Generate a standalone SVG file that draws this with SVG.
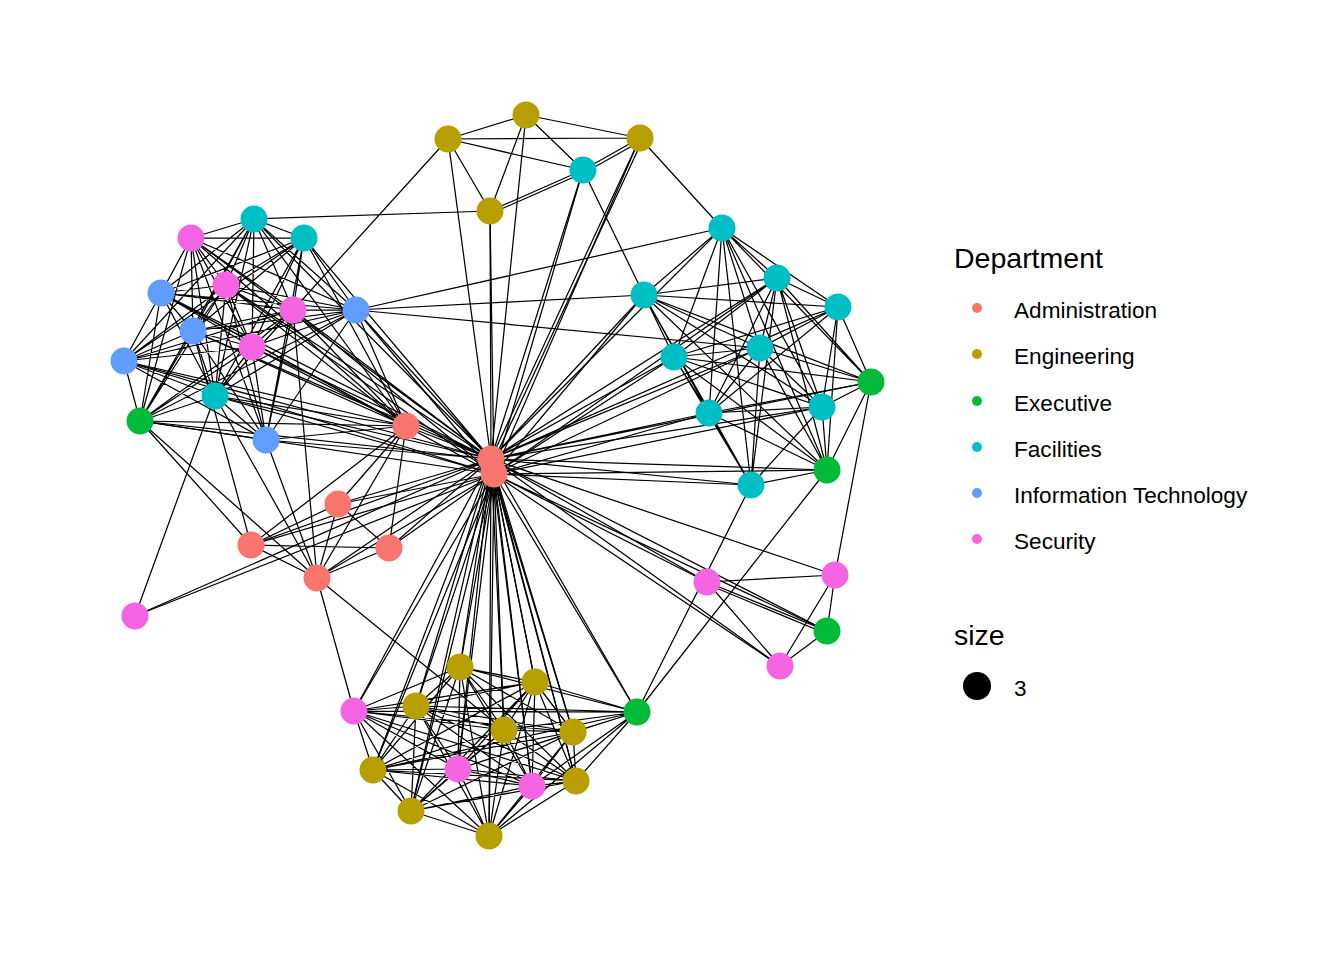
<svg xmlns="http://www.w3.org/2000/svg" width="1344" height="960" viewBox="0 0 1344 960">
<style>
.e{fill:none;stroke:#000;stroke-width:1.25}
.n{stroke:none}
.adm{fill:#F8766D}.eng{fill:#B79F00}.exe{fill:#00BA38}.fac{fill:#00BFC4}.it{fill:#619CFF}.sec{fill:#F564E3}
.lt{font-family:"Liberation Sans",Arial,sans-serif;fill:#000}
</style>
<rect width="1344" height="960" fill="#fff"/>
<g id="edges">
<path class="e" d="M491 459L448 139M491 459L526 115M491 459L490 211M491 459L583 170M491 459L640 138M491 459L722 228M491 459L777 278M491 459L838 307M491 459L644 295M491 459L674 357M491 459L760 348M491 459L709 413M491 459L822 407M491 459L751 485M491 459L871 382M491 459L827 470M491 459L707 582M491 459L835 575M491 459L780 666M491 459L827 631M491 459L191 238M491 459L226 285M491 459L293 310M491 459L252 347M491 459L161 293M491 459L193 331M491 459L124 361M491 459L356 310M491 459L254 219M491 459L304 238M491 459L215 396M491 459L140 421M491 459L266 440M491 459L406 426M491 459L338 504M491 459L251 545M491 459L389 548M491 459L317 578M491 459L135 616M491 459L460 667M491 459L535 682M491 459L416 706M491 459L504 730M491 459L573 732M491 459L373 770M491 459L576 781M491 459L411 811M491 459L489 836M491 459L354 711M491 459L458 769M491 459L532 786M491 459L637 712"/>
<path class="e" d="M494 474L640 138M494 474L490 211M494 474L583 170M494 474L644 295M494 474L674 357M494 474L760 348M494 474L709 413M494 474L822 407M494 474L751 485M494 474L827 470M494 474L707 582M494 474L780 666M494 474L827 631M494 474L777 278M494 474L226 285M494 474L293 310M494 474L124 361M494 474L356 310M494 474L140 421M494 474L266 440M494 474L406 426M494 474L338 504M494 474L251 545M494 474L389 548M494 474L317 578M494 474L135 616M494 474L460 667M494 474L535 682M494 474L416 706M494 474L504 730M494 474L573 732M494 474L373 770M494 474L576 781M494 474L411 811M494 474L489 836M494 474L354 711M494 474L458 769M494 474L532 786M494 474L637 712M494 474L215 396M494 474L161 293"/>
<path class="e" d="M191 238L254 219M191 238L304 238M191 238L161 293M191 238L226 285M191 238L293 310M191 238L356 310M191 238L193 331M191 238L252 347M191 238L124 361M191 238L215 396M191 238L140 421M191 238L266 440M254 219L304 238M254 219L161 293M254 219L226 285M254 219L293 310M254 219L356 310M254 219L193 331M254 219L252 347M254 219L124 361M254 219L215 396M254 219L140 421M304 238L161 293M304 238L226 285M304 238L293 310M304 238L356 310M304 238L193 331M304 238L252 347M304 238L124 361M304 238L215 396M304 238L266 440M161 293L226 285M161 293L293 310M161 293L356 310M161 293L193 331M161 293L252 347M161 293L124 361M161 293L215 396M161 293L140 421M226 285L293 310M226 285L356 310M226 285L193 331M226 285L252 347M226 285L124 361M226 285L215 396M226 285L140 421M226 285L266 440M293 310L356 310M293 310L193 331M293 310L252 347M293 310L124 361M293 310L215 396M293 310L140 421M293 310L266 440M356 310L193 331M356 310L252 347M356 310L124 361M356 310L215 396M356 310L140 421M356 310L266 440M193 331L252 347M193 331L124 361M193 331L215 396M193 331L140 421M193 331L266 440M252 347L124 361M252 347L215 396M252 347L140 421M252 347L266 440M124 361L215 396M124 361L140 421M124 361L266 440M215 396L140 421M215 396L266 440M140 421L266 440"/>
<path class="e" d="M406 426L191 238M406 426L226 285M406 426L293 310M406 426L252 347M406 426L161 293M406 426L193 331M406 426L124 361M406 426L254 219M406 426L304 238M406 426L215 396M406 426L140 421M406 426L266 440M406 426L356 310M406 426L338 504M406 426L251 545M406 426L389 548M406 426L317 578"/>
<path class="e" d="M722 228L777 278M722 228L838 307M722 228L644 295M722 228L674 357M722 228L760 348M722 228L709 413M722 228L822 407M722 228L751 485M722 228L871 382M722 228L827 470M777 278L838 307M777 278L644 295M777 278L674 357M777 278L760 348M777 278L709 413M777 278L822 407M777 278L751 485M777 278L871 382M777 278L827 470M838 307L644 295M838 307L674 357M838 307L760 348M838 307L709 413M838 307L822 407M838 307L871 382M838 307L827 470M644 295L674 357M644 295L760 348M644 295L709 413M644 295L822 407M644 295L751 485M644 295L871 382M644 295L827 470M674 357L760 348M674 357L709 413M674 357L822 407M674 357L751 485M674 357L871 382M674 357L827 470M760 348L709 413M760 348L822 407M760 348L751 485M760 348L871 382M760 348L827 470M709 413L822 407M709 413L751 485M709 413L871 382M709 413L827 470M822 407L751 485M822 407L871 382M822 407L827 470M751 485L827 470M871 382L827 470"/>
<path class="e" d="M354 711L460 667M354 711L535 682M354 711L416 706M354 711L504 730M354 711L573 732M354 711L373 770M354 711L576 781M354 711L411 811M354 711L489 836M354 711L458 769M354 711L532 786M354 711L637 712M460 667L535 682M460 667L416 706M460 667L504 730M460 667L573 732M460 667L373 770M460 667L576 781M460 667L411 811M460 667L489 836M460 667L458 769M460 667L532 786M460 667L637 712M535 682L416 706M535 682L504 730M535 682L573 732M535 682L373 770M535 682L576 781M535 682L411 811M535 682L489 836M535 682L458 769M535 682L532 786M535 682L637 712M416 706L504 730M416 706L573 732M416 706L373 770M416 706L576 781M416 706L411 811M416 706L489 836M416 706L458 769M416 706L532 786M416 706L637 712M504 730L573 732M504 730L373 770M504 730L576 781M504 730L411 811M504 730L489 836M504 730L458 769M504 730L532 786M504 730L637 712M573 732L373 770M573 732L576 781M573 732L411 811M573 732L489 836M573 732L458 769M573 732L532 786M573 732L637 712M373 770L576 781M373 770L411 811M373 770L489 836M373 770L458 769M373 770L532 786M373 770L637 712M576 781L411 811M576 781L489 836M576 781L458 769M576 781L532 786M576 781L637 712M411 811L489 836M411 811L458 769M411 811L532 786M489 836L458 769M489 836L532 786M489 836L637 712M458 769L532 786M458 769L637 712M532 786L637 712"/>
<path class="e" d="M448 139L526 115M448 139L640 138M526 115L640 138M448 139L583 170M526 115L583 170M640 138L583 170M641 141L584 173M490 211L583 170M490 214L583 173M448 139L490 211M526 115L490 211M490 211L254 219M448 139L293 310M640 138L722 228M583 170L644 295M643 139L494 460M356 310L722 228M356 310L760 348M356 310L644 295M140 421L251 545M140 421L317 578M135 616L215 396M338 504L251 545M338 504L389 548M338 504L317 578M251 545L389 548M251 545L317 578M389 548L317 578M266 440L317 578M293 310L317 578M215 396L317 578M317 578L354 711M317 578L504 730M193 331L251 545M707 582L835 575M707 582L827 631M709 585L827 634M707 582L780 666M835 575L827 631M835 575L780 666M827 631L780 666M835 575L871 382M827 470L637 712M751 485L637 712"/>
</g>
<g id="nodes">
<g id="adm1"><circle class="n adm" cx="491" cy="459" r="13.5"/></g>
<g id="adm2"><circle class="n adm" cx="494" cy="474" r="13.5"/></g>
<g id="adm3"><circle class="n adm" cx="406" cy="426" r="13.5"/></g>
<g id="adm4"><circle class="n adm" cx="338" cy="504" r="13.5"/></g>
<g id="adm5"><circle class="n adm" cx="251" cy="545" r="13.5"/></g>
<g id="adm6"><circle class="n adm" cx="389" cy="548" r="13.5"/></g>
<g id="adm7"><circle class="n adm" cx="317" cy="578" r="13.5"/></g>
<g id="eng1"><circle class="n eng" cx="448" cy="139" r="13.5"/></g>
<g id="eng2"><circle class="n eng" cx="526" cy="115" r="13.5"/></g>
<g id="eng3"><circle class="n eng" cx="640" cy="138" r="13.5"/></g>
<g id="eng4"><circle class="n eng" cx="490" cy="211" r="13.5"/></g>
<g id="eng5"><circle class="n eng" cx="460" cy="667" r="13.5"/></g>
<g id="eng6"><circle class="n eng" cx="535" cy="682" r="13.5"/></g>
<g id="eng7"><circle class="n eng" cx="416" cy="706" r="13.5"/></g>
<g id="eng8"><circle class="n eng" cx="504" cy="730" r="13.5"/></g>
<g id="eng9"><circle class="n eng" cx="573" cy="732" r="13.5"/></g>
<g id="eng10"><circle class="n eng" cx="373" cy="770" r="13.5"/></g>
<g id="eng11"><circle class="n eng" cx="576" cy="781" r="13.5"/></g>
<g id="eng12"><circle class="n eng" cx="411" cy="811" r="13.5"/></g>
<g id="eng13"><circle class="n eng" cx="489" cy="836" r="13.5"/></g>
<g id="fac1"><circle class="n fac" cx="583" cy="170" r="13.5"/></g>
<g id="fac2"><circle class="n fac" cx="254" cy="219" r="13.5"/></g>
<g id="fac3"><circle class="n fac" cx="304" cy="238" r="13.5"/></g>
<g id="fac4"><circle class="n fac" cx="722" cy="228" r="13.5"/></g>
<g id="fac5"><circle class="n fac" cx="777" cy="278" r="13.5"/></g>
<g id="fac6"><circle class="n fac" cx="838" cy="307" r="13.5"/></g>
<g id="fac7"><circle class="n fac" cx="644" cy="295" r="13.5"/></g>
<g id="fac8"><circle class="n fac" cx="674" cy="357" r="13.5"/></g>
<g id="fac9"><circle class="n fac" cx="760" cy="348" r="13.5"/></g>
<g id="fac10"><circle class="n fac" cx="709" cy="413" r="13.5"/></g>
<g id="fac11"><circle class="n fac" cx="822" cy="407" r="13.5"/></g>
<g id="fac12"><circle class="n fac" cx="751" cy="485" r="13.5"/></g>
<g id="fac13"><circle class="n fac" cx="215" cy="396" r="13.5"/></g>
<g id="sec1"><circle class="n sec" cx="191" cy="238" r="13.5"/></g>
<g id="sec2"><circle class="n sec" cx="226" cy="285" r="13.5"/></g>
<g id="sec3"><circle class="n sec" cx="293" cy="310" r="13.5"/></g>
<g id="sec4"><circle class="n sec" cx="252" cy="347" r="13.5"/></g>
<g id="sec5"><circle class="n sec" cx="135" cy="616" r="13.5"/></g>
<g id="sec6"><circle class="n sec" cx="707" cy="582" r="13.5"/></g>
<g id="sec7"><circle class="n sec" cx="835" cy="575" r="13.5"/></g>
<g id="sec8"><circle class="n sec" cx="780" cy="666" r="13.5"/></g>
<g id="sec9"><circle class="n sec" cx="354" cy="711" r="13.5"/></g>
<g id="sec10"><circle class="n sec" cx="458" cy="769" r="13.5"/></g>
<g id="sec11"><circle class="n sec" cx="532" cy="786" r="13.5"/></g>
<g id="it1"><circle class="n it" cx="161" cy="293" r="13.5"/></g>
<g id="it2"><circle class="n it" cx="193" cy="331" r="13.5"/></g>
<g id="it3"><circle class="n it" cx="124" cy="361" r="13.5"/></g>
<g id="it4"><circle class="n it" cx="356" cy="310" r="13.5"/></g>
<g id="it5"><circle class="n it" cx="266" cy="440" r="13.5"/></g>
<g id="exe1"><circle class="n exe" cx="140" cy="421" r="13.5"/></g>
<g id="exe2"><circle class="n exe" cx="871" cy="382" r="13.5"/></g>
<g id="exe3"><circle class="n exe" cx="827" cy="470" r="13.5"/></g>
<g id="exe4"><circle class="n exe" cx="827" cy="631" r="13.5"/></g>
<g id="exe5"><circle class="n exe" cx="637" cy="712" r="13.5"/></g>
</g>
<g id="legend">
<text class="lt" x="954" y="268" font-size="28.5">Department</text>
<circle class="adm" cx="977" cy="308" r="5"/>
<circle class="eng" cx="977" cy="354" r="5"/>
<circle class="exe" cx="977" cy="401" r="5"/>
<circle class="fac" cx="977" cy="447" r="5"/>
<circle class="it" cx="977" cy="493" r="5"/>
<circle class="sec" cx="977" cy="539" r="5"/>
<text class="lt" x="1014" y="318" font-size="22.6">Administration</text>
<text class="lt" x="1014" y="364" font-size="22.6">Engineering</text>
<text class="lt" x="1014" y="411" font-size="22.6">Executive</text>
<text class="lt" x="1014" y="457" font-size="22.6">Facilities</text>
<text class="lt" x="1014" y="503" font-size="22.6">Information Technology</text>
<text class="lt" x="1014" y="549" font-size="22.6">Security</text>
<text class="lt" x="954" y="645" font-size="28.5">size</text>
<circle cx="977" cy="686" r="14" fill="#000"/>
<text class="lt" x="1014" y="696" font-size="22.6">3</text>
</g>
</svg>
